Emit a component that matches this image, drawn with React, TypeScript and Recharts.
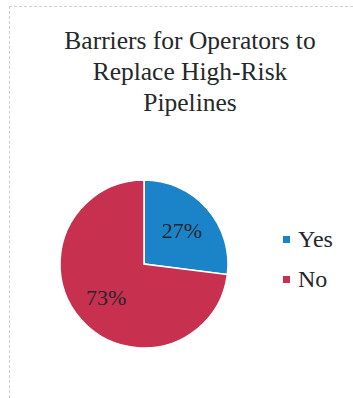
import { PieChart, Pie, Cell, Legend } from "recharts";

const categories = ["Yes", "No"];
const shares = [27, 73];
const sliceColors = ["#1b84c9", "#c8304f"];

const chartData = categories.map((name, i) => ({ name, value: shares[i] }));

const titleLines = ["Barriers for Operators to", "Replace High-Risk", "Pipelines"];

const RADIAN = Math.PI / 180;

function renderLabel(props: any) {
    const { cx, cy, midAngle, outerRadius, percent } = props;
    const r = outerRadius * 0.6;
    const x = cx + r * Math.cos(-midAngle * RADIAN);
    const y = cy + r * Math.sin(-midAngle * RADIAN);
    return (
        <text x={x} y={y} textAnchor="middle" dominantBaseline="central"
            fill="#26262e" fontSize={22} fontFamily="'Liberation Serif', 'Times New Roman', serif">
            {`${Math.round(percent * 100)}%`}
        </text>
    );
}

function renderLegend(props: any) {
    const items = [...props.payload].sort((a: any, b: any) =>
        categories.indexOf(a.value) - categories.indexOf(b.value));
    return (
        <div>
            {items.map((p: any, i: number) => (
                <div key={i} style={{ display: "flex", alignItems: "center", height: 40 }}>
                    <span style={{ width: 7, height: 7, background: p.color, display: "inline-block", marginRight: 8 }} />
                    <span style={{ fontFamily: "'Liberation Serif', 'Times New Roman', serif", fontSize: 24, color: "#26262e" }}>{p.value}</span>
                </div>
            ))}
        </div>
    );
}

export default function App() {
    return (
        <div style={{ position: "relative", width: 353, height: 398, background: "#fff" }}>
            <style>{`body{margin:0}`}</style>
            <div style={{
                position: "absolute", left: 9, top: 6, right: 0, bottom: 0,
                borderLeft: "1px dashed #d0d0d0", borderTop: "1px dashed #d0d0d0"
            }} />
            <div style={{
                position: "absolute", left: 0, top: 25, width: 380, textAlign: "center",
                fontFamily: "'Liberation Serif', 'Times New Roman', serif", fontSize: 25.5,
                lineHeight: "31px", color: "#25282a"
            }}>
                {titleLines.map((t, i) => <div key={i}>{t}</div>)}
            </div>
            <div style={{ position: "absolute", left: 0, top: 0 }}>
                <PieChart width={353} height={398}>
                    <Pie data={chartData} dataKey="value" nameKey="name" cx={139} cy={259}
                        outerRadius={84} startAngle={90} endAngle={-270}
                        stroke="#fff" strokeWidth={1.5} label={renderLabel} labelLine={false}
                        isAnimationActive={false}>
                        {chartData.map((d, i) => <Cell key={d.name} fill={sliceColors[i]} />)}
                    </Pie>
                    <Legend content={renderLegend} layout="vertical"
                        wrapperStyle={{ left: 283, top: 219, width: 70 }} />
                </PieChart>
            </div>
        </div>
    );
}
